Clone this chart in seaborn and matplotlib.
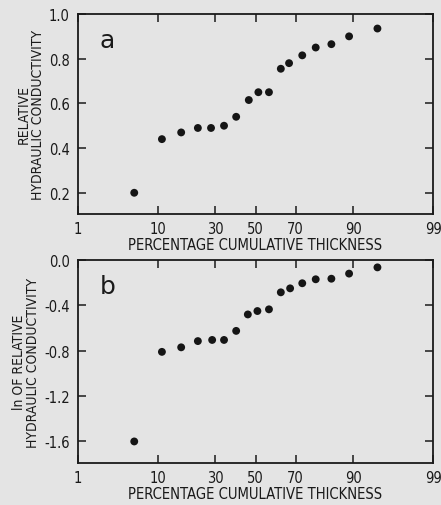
from statistics import NormalDist

import numpy as np
import pandas as pd
import matplotlib
matplotlib.use("Agg")
import matplotlib.pyplot as plt
import seaborn as sns

# percentage cumulative thickness (plotting positions)
thickness_a = [5.6, 11.0, 16.5, 22.5, 28.0, 34.0, 40.0, 46.5, 51.5, 57.0, 63.0, 67.0, 73.0, 78.5, 84.0, 89.0, 94.5]
rel_k = [0.20, 0.44, 0.47, 0.49, 0.49, 0.50, 0.54, 0.615, 0.65, 0.65, 0.755, 0.78, 0.815, 0.85, 0.865, 0.90, 0.935]

thickness_b = [5.6, 11.0, 16.5, 22.5, 28.5, 34.0, 40.0, 46.0, 51.0, 57.0, 63.0, 67.5, 73.0, 78.5, 84.0, 89.0, 94.5]
ln_rel_k = [-1.60, -0.81, -0.77, -0.715, -0.705, -0.705, -0.625, -0.48, -0.45, -0.435, -0.285, -0.25, -0.205, -0.17, -0.165, -0.12, -0.065]

x_ticks = [1, 10, 30, 50, 70, 90, 99]
y_ticks_a = [0.2, 0.4, 0.6, 0.8, 1.0]
y_ticks_b = [0.0, -0.4, -0.8, -1.2, -1.6]

BG = "#e4e4e4"

sns.set_style("ticks")
plt.rcParams["font.family"] = ["DejaVu Sans"]
plt.rcParams["font.stretch"] = "condensed"
plt.rcParams["axes.unicode_minus"] = False

# normal-probability x axis
_nd = NormalDist()
_ppf = np.vectorize(lambda p: _nd.inv_cdf(p), otypes=[float])
_cdf = np.vectorize(lambda z: _nd.cdf(z), otypes=[float])


def fwd(x):
    x = np.clip(np.asarray(x, dtype=float), 1e-6, 100 - 1e-6)
    return _ppf(x / 100.0)


def inv(z):
    return _cdf(np.asarray(z, dtype=float)) * 100.0


df_a = pd.DataFrame({"thickness": thickness_a, "k": rel_k})
df_b = pd.DataFrame({"thickness": thickness_b, "k": ln_rel_k})

fig = plt.figure(figsize=(4.41, 5.06), dpi=100, facecolor=BG)
W, H = 441, 506
ax1 = fig.add_axes([78 / W, 1 - 215 / H, 355 / W, 200 / H])
ax2 = fig.add_axes([78 / W, 1 - 464 / H, 355 / W, 203 / H])

panels = [
    (ax1, df_a, y_ticks_a, (0.105, 1.0), "RELATIVE\nHYDRAULIC CONDUCTIVITY", "a"),
    (ax2, df_b, y_ticks_b, (-1.79, 0.0), "ln OF RELATIVE\nHYDRAULIC CONDUCTIVITY", "b"),
]

for ax, df, yt, ylim, ylab, letter in panels:
    ax.set_facecolor(BG)
    sns.scatterplot(data=df, x="thickness", y="k", ax=ax, color="#151515",
                    s=32, edgecolor="none", zorder=3)
    ax.set_xscale("function", functions=(fwd, inv))
    ax.set_xlim(1, 99)
    ax.set_ylim(*ylim)
    ax.set_xticks(x_ticks)
    ax.set_xticklabels([str(t) for t in x_ticks])
    ax.set_yticks(yt)
    ax.set_yticklabels([f"{t:.1f}" for t in yt])
    ax.minorticks_off()
    ax.tick_params(direction="in", length=6, width=1.1, top=True, right=True,
                   labelsize=10.5, colors="#1a1a1a")
    ax.tick_params(axis="x", pad=5)
    ax.tick_params(axis="y", pad=6)
    for sp in ax.spines.values():
        sp.set_linewidth(1.3)
        sp.set_color("#1a1a1a")
    ax.set_xlabel("PERCENTAGE CUMULATIVE THICKNESS", fontsize=10.6, color="#1a1a1a", labelpad=1)
    ax.set_ylabel(ylab, fontsize=10, color="#1a1a1a", labelpad=3, linespacing=1.0)
    ax.text(0.06, 0.93, letter, transform=ax.transAxes, fontsize=18,
            ha="left", va="top", color="#1a1a1a", fontstretch="normal")

fig.savefig("out.png", dpi=100, facecolor=BG)
